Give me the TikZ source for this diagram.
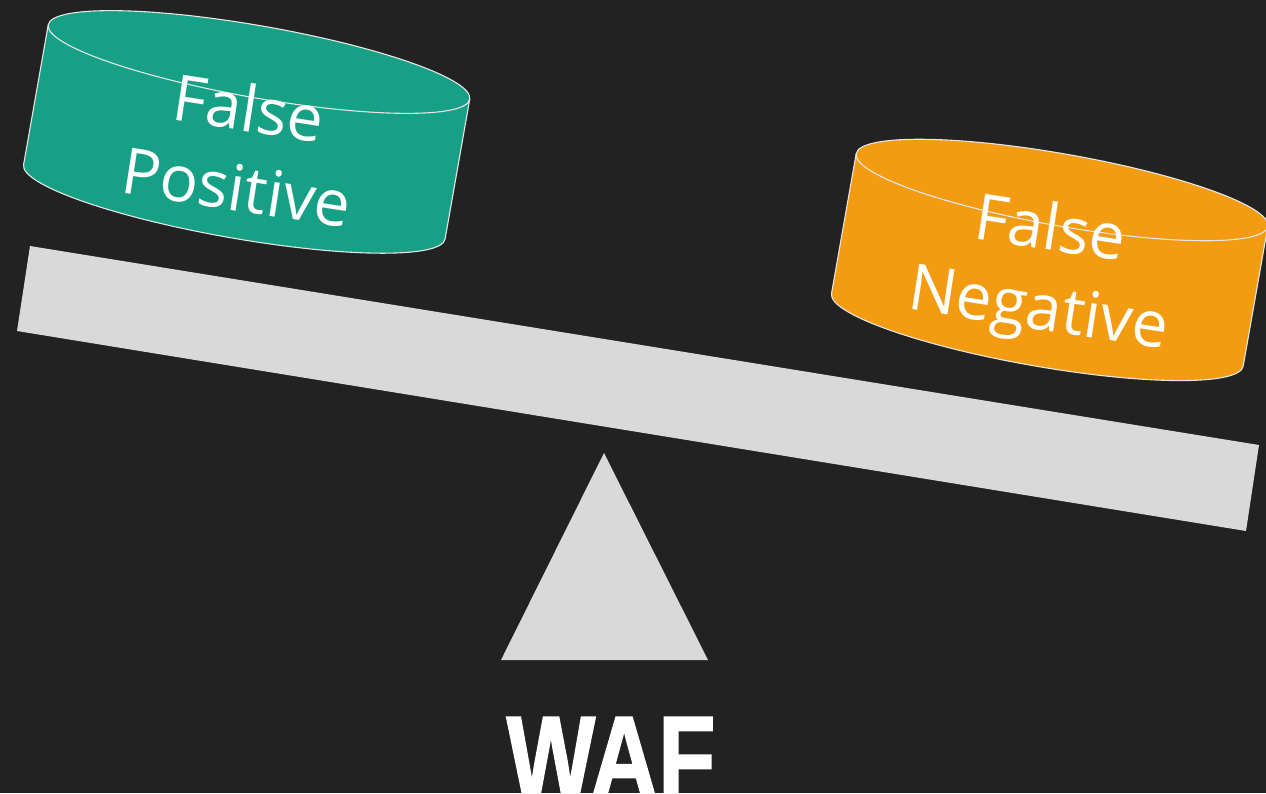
\documentclass[tikz,border=0pt]{standalone}
\usepackage{fontspec}
\setmainfont{Open Sans}
\newfontfamily\labelbold{Liberation Sans Bold}[FakeBold=1.6]
\begin{document}
\begin{tikzpicture}[x=1pt,y=-1pt,
  bg/.style={fill=bgdark},
  plank/.style={fill=beamgray},
  drum/.style={draw=rimline,line width=1.1pt},
  drumtext/.style={text=white,align=center,font=\fontsize{64}{80}\selectfont,inner sep=0pt}]
\definecolor{bgdark}{HTML}{222222}
\definecolor{beamgray}{HTML}{D9D9D9}
\definecolor{fpgreen}{HTML}{16A085}
\definecolor{fnorange}{HTML}{F39C12}
\definecolor{rimline}{HTML}{E6E6E6}
% canvas
\fill[bg] (0,0) rectangle (1266,793);
\useasboundingbox (0,0) rectangle (1266,793);

% seesaw beam and fulcrum
\fill[plank] (30,246) coordinate (bTL) -- (1259,445) coordinate (bTR)
  -- (1246,531) coordinate (bBR) -- (17,331) coordinate (bBL) -- cycle;
\fill[plank] (604,453) coordinate (apex) -- (708,660) coordinate (baseR)
  -- (501,660) coordinate (baseL) -- cycle;

% cylinder: #1 colour, #2 half width; top-ellipse centre at current shift
\newcommand\drumshape[2]{%
  \fill[#1] (-#2,0) -- (-#2,142)
    arc[start angle=180,end angle=360,x radius=#2pt,y radius=36pt]
    -- (#2,0)
    arc[start angle=0,end angle=180,x radius=#2pt,y radius=36pt] -- cycle;
  \draw[drum] (0,0) ellipse[x radius=#2pt,y radius=36pt];
  \draw[drum] (-#2,0) -- (-#2,142)
    arc[start angle=180,end angle=360,x radius=#2pt,y radius=36pt]
    -- (#2,0);
}

% false positive drum (left, raised)
\begin{scope}[shift={(259,62)},rotate=-10]
  \drumshape{fpgreen}{214}
\end{scope}
\node[drumtext,rotate=-8.8] (fp) at (243,147) {False\\Positive};

% false negative drum (right, lowered)
\begin{scope}[shift={(1062,190)},rotate=-10]
  \drumshape{fnorange}{209}
\end{scope}
\node[drumtext,rotate=-8.8] (fn) at (1044,273) {False\\Negative};

% caption under the fulcrum
\node[text=white,font=\labelbold\fontsize{94}{94}\selectfont,
  yscale=1.25,inner sep=0pt,anchor=north] (waf) at (611,717) {WAF};
\end{tikzpicture}
\end{document}
